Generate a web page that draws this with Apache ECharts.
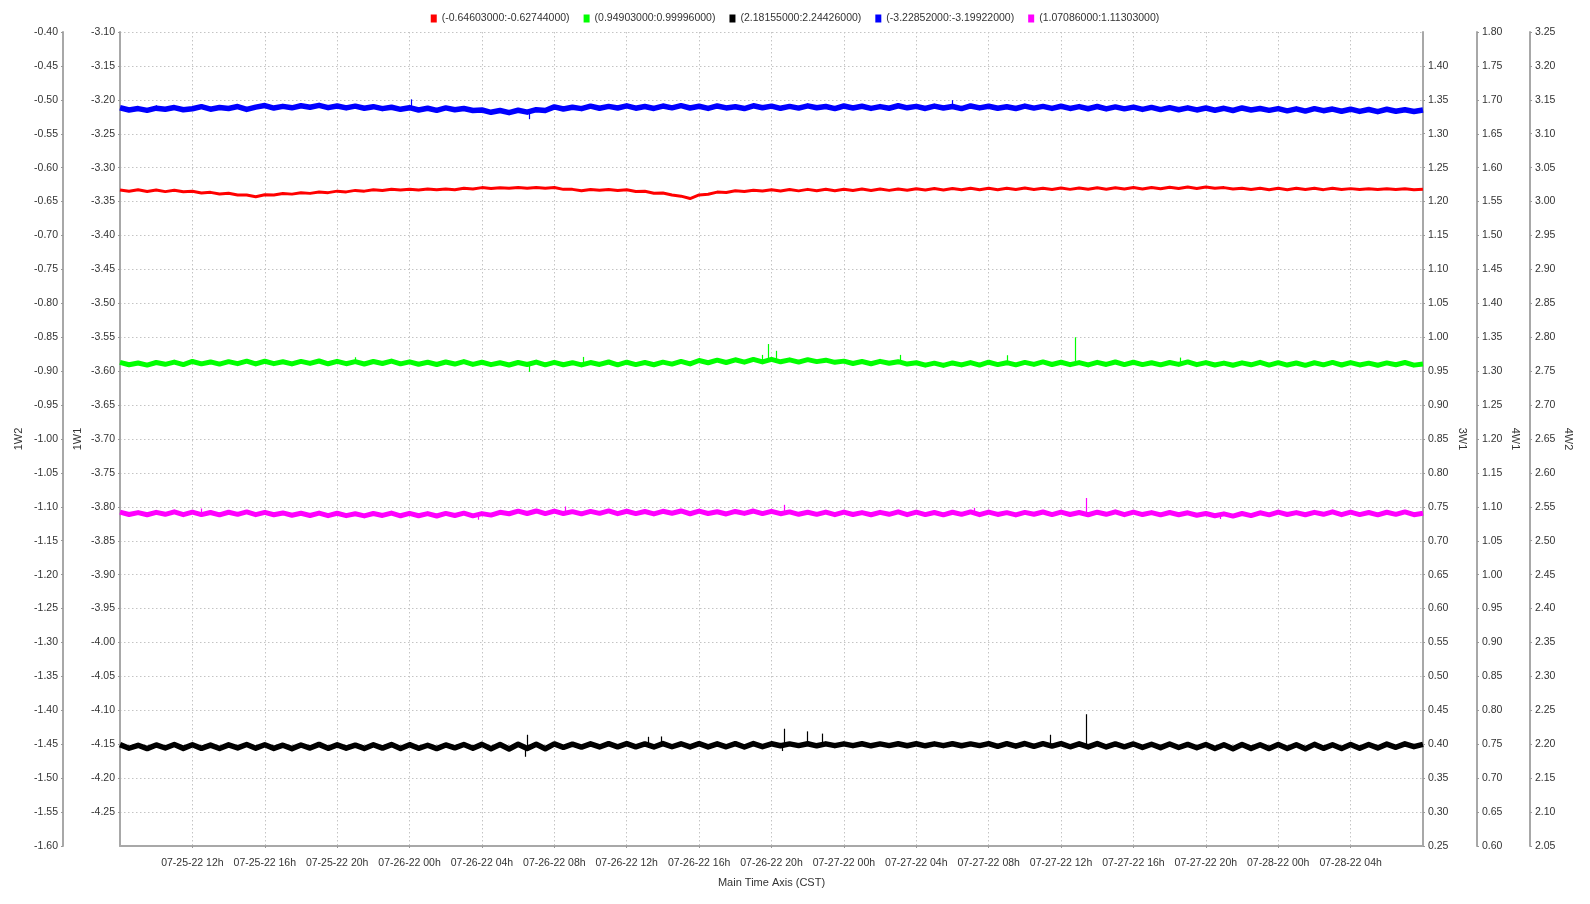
<!DOCTYPE html>
<html><head><meta charset="utf-8">
<script src="https://cdn.jsdelivr.net/npm/echarts@6/dist/echarts.min.js"></script>
<style>html,body{margin:0;padding:0;background:#fff}#c{width:1590px;height:904px}</style>
</head><body><div id="c"></div><script>
// Time: hours since 07-25-22 08h, one sample every 30 minutes
const START_DAY = 25, START_HOUR = 8;
const STEP_H = 0.5;
const X_MIN = 0, X_MAX = 72, X_INTERVAL = 4;

const legendNames = ['(-0.64603000:-0.62744000)', '(0.94903000:0.99996000)', '(2.18155000:2.24426000)', '(-3.22852000:-3.19922000)', '(1.07086000:1.11303000)'];
const seriesColors = ['#ff0000', '#00ff00', '#000000', '#0000ff', '#ff00ff'];

// red on 1W2
const redValues = [
-0.6329,-0.6349,-0.6327,-0.6351,-0.6330,-0.6353,-0.6332,-0.6356,
-0.6348,-0.6373,-0.6364,-0.6388,-0.6378,-0.6403,-0.6404,-0.6428,
-0.6400,-0.6404,-0.6381,-0.6390,-0.6370,-0.6379,-0.6359,-0.6368,
-0.6346,-0.6357,-0.6335,-0.6346,-0.6325,-0.6337,-0.6318,-0.6330,
-0.6317,-0.6328,-0.6316,-0.6326,-0.6313,-0.6324,-0.6303,-0.6314,
-0.6294,-0.6306,-0.6295,-0.6304,-0.6292,-0.6302,-0.6291,-0.6303,
-0.6293,-0.6320,-0.6320,-0.6341,-0.6321,-0.6333,-0.6322,-0.6335,
-0.6326,-0.6350,-0.6347,-0.6376,-0.6374,-0.6403,-0.6420,-0.6455,
-0.6402,-0.6393,-0.6360,-0.6365,-0.6341,-0.6352,-0.6332,-0.6344,
-0.6325,-0.6345,-0.6322,-0.6342,-0.6320,-0.6340,-0.6319,-0.6339,
-0.6318,-0.6338,-0.6316,-0.6336,-0.6314,-0.6335,-0.6313,-0.6333,
-0.6310,-0.6330,-0.6308,-0.6328,-0.6306,-0.6326,-0.6305,-0.6325,
-0.6304,-0.6324,-0.6303,-0.6323,-0.6301,-0.6321,-0.6302,-0.6322,
-0.6300,-0.6320,-0.6299,-0.6319,-0.6297,-0.6317,-0.6295,-0.6315,
-0.6293,-0.6313,-0.6291,-0.6311,-0.6288,-0.6308,-0.6286,-0.6306,
-0.6284,-0.6305,-0.6294,-0.6314,-0.6302,-0.6322,-0.6304,-0.6324,
-0.6305,-0.6325,-0.6303,-0.6323,-0.6304,-0.6324,-0.6302,-0.6322,
-0.6309,-0.6321,-0.6310,-0.6322,-0.6311,-0.6323,-0.6310,-0.6324,
-0.6318];

// green on 3W1
const greenValues = [
0.9630,0.9595,0.9621,0.9590,0.9628,0.9601,0.9634,0.9597,
0.9643,0.9608,0.9636,0.9604,0.9640,0.9611,0.9647,0.9606,
0.9646,0.9611,0.9639,0.9607,0.9644,0.9614,0.9650,0.9609,
0.9645,0.9610,0.9640,0.9606,0.9643,0.9613,0.9649,0.9608,
0.9637,0.9602,0.9631,0.9598,0.9635,0.9605,0.9641,0.9600,
0.9631,0.9596,0.9624,0.9591,0.9628,0.9598,0.9634,0.9593,
0.9630,0.9595,0.9625,0.9592,0.9627,0.9599,0.9635,0.9594,
0.9632,0.9597,0.9628,0.9595,0.9633,0.9604,0.9644,0.9607,
0.9657,0.9624,0.9662,0.9628,0.9668,0.9633,0.9673,0.9637,
0.9673,0.9638,0.9667,0.9634,0.9670,0.9641,0.9662,0.9630,
0.9648,0.9613,0.9642,0.9609,0.9645,0.9616,0.9640,0.9605,
0.9624,0.9589,0.9618,0.9585,0.9621,0.9592,0.9627,0.9590,
0.9632,0.9597,0.9625,0.9593,0.9629,0.9600,0.9636,0.9598,
0.9631,0.9596,0.9626,0.9592,0.9630,0.9599,0.9635,0.9597,
0.9632,0.9597,0.9624,0.9593,0.9628,0.9600,0.9636,0.9596,
0.9626,0.9591,0.9619,0.9587,0.9623,0.9594,0.9630,0.9590,
0.9625,0.9590,0.9620,0.9586,0.9624,0.9593,0.9629,0.9591,
0.9626,0.9592,0.9618,0.9587,0.9622,0.9595,0.9628,0.9589,
0.9605];

// black on 4W2
const blackValues = [
2.1994,2.1941,2.1985,2.1936,2.1990,2.1945,2.1997,2.1939,
2.1992,2.1940,2.1988,2.1937,2.1991,2.1946,2.1996,2.1942,
2.1993,2.1939,2.1986,2.1935,2.1989,2.1944,2.1998,2.1940,
2.1991,2.1942,2.1987,2.1938,2.1992,2.1943,2.1995,2.1937,
2.1994,2.1940,2.1985,2.1936,2.1990,2.1947,2.1997,2.1941,
2.1998,2.1934,2.1995,2.1930,2.2000,2.1936,2.1999,2.1933,
2.2005,2.1955,2.2001,2.1958,2.2006,2.1960,2.2008,2.1962,
2.2008,2.1962,2.2004,2.1960,2.2010,2.1963,2.2007,2.1961,
2.2009,2.1961,2.2006,2.1963,2.2008,2.1960,2.2010,2.1964,
2.2007,2.1978,2.2005,2.1980,2.2008,2.1977,2.2006,2.1979,
2.2006,2.1979,2.2008,2.1977,2.2005,2.1980,2.2007,2.1978,
2.2008,2.1977,2.2006,2.1979,2.2007,2.1978,2.2005,2.1980,
2.2010,2.1970,2.2008,2.1972,2.2011,2.1969,2.2009,2.1973,
2.2009,2.1963,2.2006,2.1961,2.2010,2.1960,2.2004,2.1962,
2.2004,2.1953,2.2000,2.1950,2.2003,2.1952,2.1998,2.1948,
2.1996,2.1938,2.1993,2.1935,2.1997,2.1939,2.1992,2.1936,
2.1995,2.1937,2.1994,2.1934,2.1998,2.1940,2.1993,2.1938,
2.1996,2.1940,2.1997,2.1946,2.2002,2.1955,2.2006,2.1965,
2.1998];

// blue on 1W1
const blueValues = [
-3.2117,-3.2150,-3.2129,-3.2155,-3.2123,-3.2139,-3.2114,-3.2146,
-3.2132,-3.2101,-3.2138,-3.2112,-3.2127,-3.2099,-3.2141,-3.2108,
-3.2084,-3.2121,-3.2096,-3.2118,-3.2087,-3.2110,-3.2081,-3.2115,
-3.2090,-3.2119,-3.2093,-3.2124,-3.2101,-3.2130,-3.2109,-3.2140,
-3.2116,-3.2150,-3.2124,-3.2155,-3.2119,-3.2146,-3.2128,-3.2157,
-3.2150,-3.2184,-3.2157,-3.2189,-3.2154,-3.2182,-3.2145,-3.2158,
-3.2104,-3.2135,-3.2110,-3.2130,-3.2093,-3.2124,-3.2097,-3.2121,
-3.2089,-3.2123,-3.2098,-3.2127,-3.2092,-3.2118,-3.2086,-3.2120,
-3.2095,-3.2126,-3.2090,-3.2119,-3.2101,-3.2128,-3.2088,-3.2116,
-3.2093,-3.2125,-3.2097,-3.2122,-3.2089,-3.2117,-3.2099,-3.2129,
-3.2091,-3.2120,-3.2094,-3.2126,-3.2100,-3.2124,-3.2087,-3.2118,
-3.2096,-3.2127,-3.2092,-3.2121,-3.2098,-3.2129,-3.2090,-3.2119,
-3.2094,-3.2124,-3.2101,-3.2128,-3.2092,-3.2122,-3.2097,-3.2126,
-3.2095,-3.2127,-3.2100,-3.2131,-3.2098,-3.2134,-3.2104,-3.2133,
-3.2108,-3.2141,-3.2112,-3.2144,-3.2115,-3.2146,-3.2118,-3.2149,
-3.2121,-3.2153,-3.2125,-3.2157,-3.2120,-3.2150,-3.2127,-3.2155,
-3.2129,-3.2162,-3.2133,-3.2166,-3.2130,-3.2160,-3.2136,-3.2168,
-3.2138,-3.2171,-3.2142,-3.2174,-3.2139,-3.2169,-3.2146,-3.2172,
-3.2150];

// magenta on 4W1
const magentaValues = [
1.0922,1.0887,1.0915,1.0883,1.0919,1.0890,1.0926,1.0885,
1.0921,1.0886,1.0917,1.0882,1.0920,1.0889,1.0925,1.0884,
1.0918,1.0883,1.0910,1.0876,1.0905,1.0872,1.0908,1.0870,
1.0905,1.0870,1.0898,1.0866,1.0902,1.0873,1.0908,1.0868,
1.0904,1.0869,1.0900,1.0865,1.0903,1.0872,1.0907,1.0867,
1.0900,1.0878,1.0920,1.0898,1.0936,1.0902,1.0939,1.0900,
1.0936,1.0901,1.0929,1.0897,1.0933,1.0904,1.0940,1.0899,
1.0935,1.0900,1.0931,1.0896,1.0934,1.0905,1.0939,1.0898,
1.0937,1.0902,1.0928,1.0895,1.0932,1.0903,1.0938,1.0900,
1.0934,1.0899,1.0925,1.0890,1.0920,1.0889,1.0923,1.0884,
1.0922,1.0887,1.0915,1.0883,1.0919,1.0890,1.0926,1.0885,
1.0921,1.0886,1.0917,1.0882,1.0920,1.0889,1.0925,1.0884,
1.0923,1.0888,1.0914,1.0881,1.0918,1.0891,1.0924,1.0886,
1.0922,1.0887,1.0916,1.0883,1.0921,1.0890,1.0927,1.0885,
1.0921,1.0886,1.0915,1.0882,1.0917,1.0884,1.0912,1.0876,
1.0901,1.0868,1.0897,1.0864,1.0902,1.0871,1.0912,1.0882,
1.0922,1.0887,1.0915,1.0883,1.0919,1.0890,1.0926,1.0885,
1.0921,1.0886,1.0917,1.0882,1.0920,1.0889,1.0925,1.0884,
1.0906];

// short spikes: [hour, base value, tip value]
const redSpikes = [[59.8, -0.6298, -0.62744], [31.4, -0.6440, -0.64603]];
const greenSpikes = [[35.8, 0.9650, 0.9900], [36.25, 0.9655, 0.9800], [52.8, 0.9615, 0.99996], [35.5, 0.9650, 0.9740], [43.1, 0.9625, 0.9740], [49.0, 0.9610, 0.9735], [58.6, 0.9610, 0.9700], [22.6, 0.9610, 0.9490], [13.0, 0.9630, 0.9705], [25.6, 0.9615, 0.9710]];
const blackSpikes = [[36.7, 2.1995, 2.2229], [37.95, 2.1995, 2.2190], [38.8, 2.1995, 2.2157], [53.4, 2.1990, 2.24426], [51.4, 2.1990, 2.2140], [29.2, 2.1985, 2.2110], [29.9, 2.1985, 2.2115], [22.5, 2.1970, 2.2140], [36.6, 2.1995, 2.1900], [22.4, 2.1965, 2.18155]];
const blueSpikes = [[16.1, -3.2100, -3.19922], [46.0, -3.2110, -3.2005], [22.6, -3.2170, -3.22852], [2.0, -3.2132, -3.2080], [30.3, -3.2105, -3.2150]];
const magentaSpikes = [[53.4, 1.0905, 1.11303], [36.7, 1.0915, 1.1030], [24.6, 1.0920, 1.1005], [19.8, 1.0885, 1.0810], [60.8, 1.0870, 1.0820], [4.5, 1.0905, 1.0975], [47.2, 1.0905, 1.0985]];

// y axes: [name, min, max, position, offset, nameGap, showMinLabel, showMaxLabel]
const yAxisDefs = [
  ['1W2', -1.60, -0.40, 'left', 57, 39, true, true],
  ['1W1', -4.30, -3.10, 'left', 0, 37, false, true],
  ['3W1', 0.25, 1.45, 'right', 0, 34, true, false],
  ['4W1', 0.60, 1.80, 'right', 54, 33, true, true],
  ['4W2', 2.05, 3.25, 'right', 107, 33, true, true]
];
const Y_INTERVAL = 0.05;

const FONT = "'Liberation Sans', Arial, sans-serif";
const pad = n => (n < 10 ? '0' : '') + n;
function hourLabel(h) {
  const total = START_HOUR + h;
  const day = START_DAY + Math.floor(total / 24);
  const hr = Math.round(total % 24);
  return '07-' + pad(day) + '-22 ' + pad(hr) + 'h';
}

const yAxes = yAxisDefs.map((d, i) => ({
  type: 'value', name: d[0], min: d[1], max: d[2], interval: Y_INTERVAL,
  position: d[3], offset: d[4], nameLocation: 'middle', nameGap: d[5],
  nameRotate: d[3] === 'left' ? 90 : -90, nameMoveOverlap: false,
  nameTextStyle: { fontFamily: FONT, fontSize: 11, color: '#333' },
  axisLine: { show: true, onZero: false, lineStyle: { color: '#a8a8a8', width: 2 } },
  axisTick: { show: true, length: 2, lineStyle: { color: '#999' } },
  axisLabel: { fontFamily: FONT, fontSize: 10.5, color: '#333', margin: 5,
    showMinLabel: d[6], showMaxLabel: d[7], formatter: v => v.toFixed(2) },
  splitLine: { show: i === 1, lineStyle: { color: '#c4c4c4', width: 1, type: [1.5, 2.5] } }
}));

const valueSets = [redValues, greenValues, blackValues, blueValues, magentaValues];
const spikeSets = [redSpikes, greenSpikes, blackSpikes, blueSpikes, magentaSpikes];
const axisIndexOf = [0, 2, 4, 1, 3];
const lineWidths = [3, 5, 5.5, 5.5, 5];

const series = valueSets.map((vals, k) => ({
  name: legendNames[k], type: 'line', yAxisIndex: axisIndexOf[k],
  data: vals.map((v, i) => [i * STEP_H, v]),
  showSymbol: false, symbol: 'none', silent: true, animation: false,
  color: seriesColors[k],
  lineStyle: { color: seriesColors[k], width: lineWidths[k], join: 'round' },
  markLine: {
    symbol: ['none', 'none'], silent: true, animation: false,
    label: { show: false }, emphasis: { disabled: true },
    lineStyle: { color: seriesColors[k], width: 1.2, type: 'solid', opacity: 1 },
    data: spikeSets[k].map(s => [{ coord: [s[0], s[1]] }, { coord: [s[0], s[2]] }])
  }
}));

const chart = echarts.init(document.getElementById('c'), null, { renderer: 'canvas' });
chart.setOption({
  backgroundColor: '#ffffff',
  animation: false,
  legend: {
    data: legendNames, top: 8, left: 'center', icon: 'rect',
    itemWidth: 6, itemHeight: 8, itemGap: 14,
    textStyle: { fontFamily: FONT, fontSize: 10.5, color: '#333' }
  },
  grid: { left: 120, right: 167, top: 32, bottom: 58, containLabel: false },
  xAxis: {
    type: 'value', min: X_MIN, max: X_MAX, interval: X_INTERVAL,
    name: 'Main Time Axis (CST)', nameLocation: 'middle', nameGap: 31,
    nameTextStyle: { fontFamily: FONT, fontSize: 11, color: '#333' },
    axisLine: { show: true, onZero: false, lineStyle: { color: '#a8a8a8', width: 2 } },
    axisTick: { show: true, length: 2, lineStyle: { color: '#999' } },
    axisLabel: { fontFamily: FONT, fontSize: 10.5, color: '#333', margin: 12,
      showMinLabel: false, showMaxLabel: false, formatter: v => hourLabel(v) },
    splitLine: { show: true, lineStyle: { color: '#c4c4c4', width: 1, type: [1.5, 2.5] } }
  },
  yAxis: yAxes,
  series: series
});
</script></body></html>
